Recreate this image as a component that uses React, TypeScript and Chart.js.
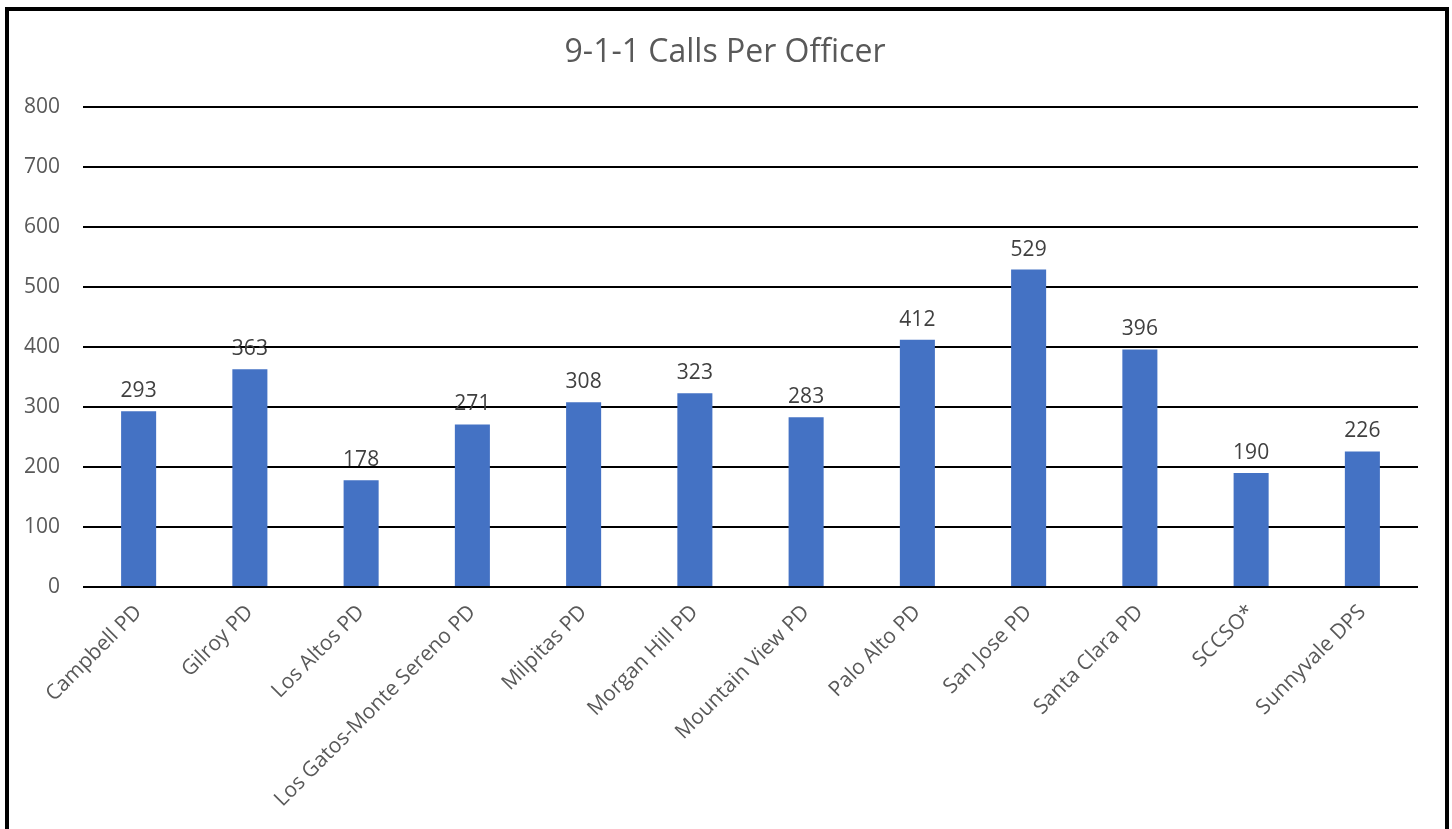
import React, { useEffect, useRef } from "react";
import { Chart, registerables } from "chart.js";

Chart.register(...registerables);

const categories = [
  "Campbell PD",
  "Gilroy PD",
  "Los Altos PD",
  "Los Gatos-Monte Sereno PD",
  "Milpitas PD",
  "Morgan Hill PD",
  "Mountain View PD",
  "Palo Alto PD",
  "San Jose PD",
  "Santa Clara PD",
  "SCCSO*",
  "Sunnyvale DPS",
];
const callsPerOfficer = [293, 363, 178, 271, 308, 323, 283, 412, 529, 396, 190, 226];
const chartTitle = "9-1-1 Calls Per Officer";
const yMin = 0;
const yMax = 800;
const yStep = 100;

const FONT = "'Open Sans', sans-serif";

const framePlugin = {
  id: "frame",
  beforeDraw(chart: any) {
    const { ctx, width } = chart;
    ctx.save();
    ctx.fillStyle = "#ffffff";
    ctx.fillRect(0, 0, width, chart.height);
    ctx.strokeStyle = "#000000";
    ctx.lineWidth = 4;
    ctx.beginPath();
    ctx.moveTo(7, chart.height + 10);
    ctx.lineTo(7, 9);
    ctx.lineTo(1447, 9);
    ctx.lineTo(1447, chart.height + 10);
    ctx.stroke();
    ctx.font = `32px ${FONT}`;
    ctx.fillStyle = "#595959";
    ctx.textAlign = "center";
    ctx.textBaseline = "alphabetic";
    ctx.fillText(chartTitle, 725, 62);
    ctx.restore();
  },
};

const labelPlugin = {
  id: "valueLabels",
  afterDatasetsDraw(chart: any) {
    const { ctx } = chart;
    const meta = chart.getDatasetMeta(0);
    ctx.save();
    ctx.font = `21px ${FONT}`;
    ctx.fillStyle = "#404040";
    ctx.textAlign = "center";
    ctx.textBaseline = "alphabetic";
    meta.data.forEach((bar: any, i: number) => {
      ctx.fillText(String(callsPerOfficer[i]), bar.x, bar.y - 14);
    });
    ctx.restore();
  },
};

export default function App() {
  const ref = useRef<HTMLCanvasElement>(null);
  useEffect(() => {
    if (!ref.current) return;
    const chart = new Chart(ref.current, {
      type: "bar",
      data: {
        labels: categories,
        datasets: [
          {
            data: callsPerOfficer,
            backgroundColor: "#4472C4",
            borderWidth: 0,
            categoryPercentage: 1,
            barPercentage: 0.315,
          },
        ],
      },
      options: {
        animation: false,
        responsive: false,
        devicePixelRatio: 1,
        layout: { padding: { top: 107, right: 34, left: 0, bottom: 0 } },
        plugins: {
          legend: { display: false },
          tooltip: { enabled: false },
          title: { display: false },
        },
        scales: {
          x: {
            grid: { display: false, drawTicks: false },
            border: { display: false },
            ticks: {
              color: "#595959",
              font: { family: FONT, size: 21 },
              maxRotation: 45,
              minRotation: 45,
              autoSkip: false,
              padding: 13,
            },
            afterFit(scale: any) {
              scale.height = 242;
            },
          },
          y: {
            min: yMin,
            max: yMax,
            grid: { color: "#000000", lineWidth: 2, drawTicks: false },
            border: { display: false },
            ticks: {
              stepSize: yStep,
              color: "#595959",
              font: { family: FONT, size: 21 },
              padding: 23,
            },
            afterFit(scale: any) {
              scale.width = 83;
            },
          },
        },
      },
      plugins: [framePlugin, labelPlugin],
    });
    return () => chart.destroy();
  }, []);
  return (
    <div style={{ position: "absolute", left: 0, top: 0, width: 1452, height: 829 }}>
      <canvas ref={ref} width={1452} height={829} style={{ display: "block" }} />
    </div>
  );
}
